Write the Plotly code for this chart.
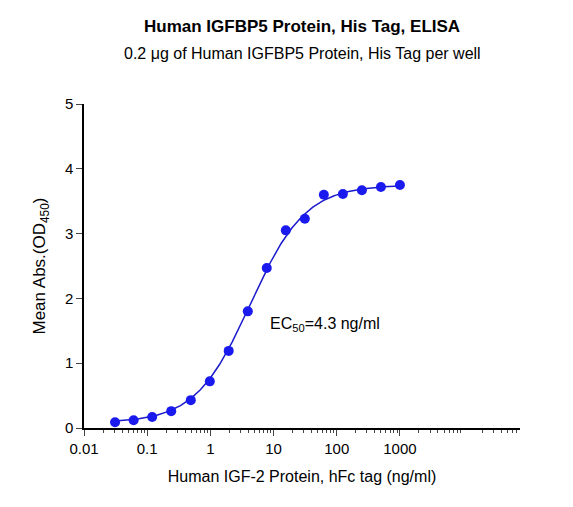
import numpy as np
import plotly.graph_objects as go

conc = [1000, 500, 250, 125, 62.5, 31.25, 15.63, 7.81, 3.91, 1.95, 0.98, 0.49, 0.24, 0.12, 0.061, 0.031]
od = [3.75, 3.72, 3.67, 3.61, 3.60, 3.23, 3.05, 2.47, 1.80, 1.19, 0.72, 0.43, 0.26, 0.17, 0.12, 0.09]
# 4PL fit parameters
bottom, top, ec50, hill = 0.08, 3.75, 4.3, 1.0

xf = np.logspace(np.log10(0.031), 3, 300)
yf = bottom + (top - bottom) / (1 + (ec50 / xf) ** hill)

fig = go.Figure()
fig.add_trace(go.Scatter(x=xf, y=yf, mode="lines", line=dict(color="#1a1acc", width=1.5), hoverinfo="skip"))
fig.add_trace(go.Scatter(x=conc, y=od, mode="markers", marker=dict(color="#1a1aee", size=10)))

fig.update_layout(
    width=573, height=507, showlegend=False, plot_bgcolor="white", paper_bgcolor="white",
    margin=dict(l=76, r=61, t=96, b=87),
    font=dict(family="Liberation Sans, Arial", color="black", size=15),
    annotations=[
        dict(text="<b>Human IGFBP5 Protein, His Tag, ELISA</b>", x=0.5, xref="paper", y=1.24, yref="paper",
             showarrow=False, font=dict(size=17), xanchor="center", yanchor="middle"),
        dict(text="0.2 μg of Human IGFBP5 Protein, His Tag per well", x=0.5, xref="paper", y=1.157, yref="paper",
             showarrow=False, font=dict(size=16), xanchor="center", yanchor="middle"),
        dict(text="EC<sub>50</sub>=4.3 ng/ml", x=np.log10(65), y=1.6, xref="x", yref="y",
             showarrow=False, font=dict(size=16)),
    ],
)
fig.update_xaxes(type="log", range=[-2, 4.9], tickvals=[0.01, 0.1, 1, 10, 100, 1000],
                 ticktext=["0.01", "0.1", "1", "10", "100", "1000"], ticks="outside", ticklen=6,
                 minor=dict(ticks="outside", ticklen=3, tickvals=[v * m for v in [0.01, 0.1, 1, 10, 100, 1000, 10000] for m in range(2, 10)]),
                 showline=True, linecolor="black", linewidth=1.5, showgrid=False, zeroline=False, automargin=False,
                 title=dict(text="Human IGF-2 Protein, hFc tag (ng/ml)", font=dict(size=16)),
                 tickfont=dict(size=15))
fig.update_yaxes(range=[0, 5], tickvals=[0, 1, 2, 3, 4, 5], ticks="outside", ticklen=6,
                 showline=True, linecolor="black", linewidth=1.5, showgrid=False, zeroline=False, automargin=False,
                 title=dict(text="Mean Abs.(OD<sub>450</sub>)", font=dict(size=17)), tickfont=dict(size=15))
fig.write_html("out.html")
